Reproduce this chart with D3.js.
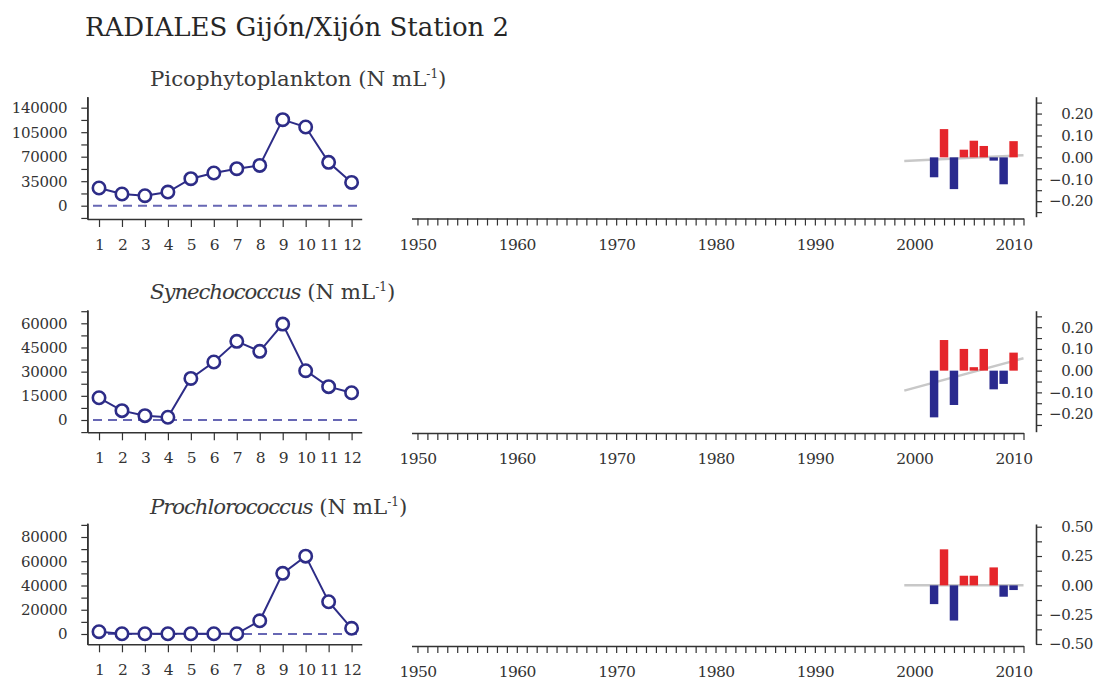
<!DOCTYPE html>
<html><head><meta charset="utf-8">
<script src="https://cdn.jsdelivr.net/npm/d3@7"></script>
<style>
body{margin:0;background:#fff}
svg{display:block;background:#fff}
text{font-family:"DejaVu Serif",serif;fill:#333}
</style>
</head><body>
<svg id="c" width="1111" height="682"></svg>
<script>
// ---------- data ----------
const months = [1,2,3,4,5,6,7,8,9,10,11,12];
const picoMonthly = [25300,16700,14300,19500,38600,46700,52900,57600,122900,112400,61900,33300];
const synMonthly  = [13800,5800,2700,1700,25800,36000,48800,42600,59500,30600,20700,16900];
const proMonthly  = [1900,200,200,200,200,200,200,10900,50000,64200,26600,4700];

const anomalyYears = [2002,2003,2004,2005,2006,2007,2008,2009,2010];
const picoAnomaly = [-0.091,0.129,-0.145,0.035,0.076,0.052,-0.015,-0.123,0.074];
const synAnomaly  = [-0.215,0.141,-0.158,0.100,0.016,0.100,-0.086,-0.061,0.083];
const proAnomaly  = [-0.160,0.307,-0.300,0.082,0.082,0.000,0.153,-0.097,-0.040];

const trendYears = [1999,2011];
const picoTrend = [-0.017,0.010];
const synTrend  = [-0.092,0.057];
const proTrend  = [0.000,0.000];

const picoTicks = [0,35000,70000,105000,140000];
const synTicks  = [0,15000,30000,45000,60000];
const proTicks  = [0,20000,40000,60000,80000];
const picoAnomTicks = [-0.2,-0.1,0,0.1,0.2];
const synAnomTicks  = [-0.2,-0.1,0,0.1,0.2];
const proAnomTicks  = [-0.5,-0.25,0,0.25,0.5];
const yearLabels = [1950,1960,1970,1980,1990,2000,2010];
const yearTickRange = [1950,2011];

const mainTitle = "RADIALES Gijón/Xijón Station 2";
const panelNames = ["Picophytoplankton","Synechococcus","Prochlorococcus"];
const panelItalic = [false,true,true];
const unitText = "(N mL";
const unitSup = "-1";

// ---------- layout ----------
const panels = [
  {name:panelNames[0], italic:panelItalic[0], monthly:picoMonthly, ticks:picoTicks, anom:picoAnomaly, anomTicks:picoAnomTicks, trend:picoTrend,
   top:96.7, bottom:219, yDom:[-19000,155700], minor:17500, rTop:96.7, rBottom:216.7, rDom:[-0.271,0.277], rMinor:0.05, rMinorRange:[-0.25,0.25], yearY:218.5, titleY:86},
  {name:panelNames[1], italic:panelItalic[1], monthly:synMonthly, ticks:synTicks, anom:synAnomaly, anomTicks:synAnomTicks, trend:synTrend,
   top:310, bottom:432.3, yDom:[-7630,68250], minor:7500, rTop:310.7, rBottom:431.7, rDom:[-0.281,0.276], rMinor:0.05, rMinorRange:[-0.25,0.25], yearY:433, titleY:299},
  {name:panelNames[2], italic:panelItalic[2], monthly:proMonthly, ticks:proTicks, anom:proAnomaly, anomTicks:proAnomTicks, trend:proTrend,
   top:523.3, bottom:644.3, yDom:[-8500,91300], minor:10000, rTop:524, rBottom:644, rDom:[-0.5,0.523], rMinor:0.125, rMinorRange:[-0.5,0.5], yearY:646, titleY:514}
];

const svg = d3.select("#c");
const axisColor = "#333";
const lineColor = "#2d2c87";
const dashColor = "#6767b4";
const redColor = "#e5262b";
const blueColor = "#2a2a8e";
const trendColor = "#c8c8c8";

svg.append("text").attr("x",85).attr("y",36).style("font-size","26px").style("fill","#262626").text(mainTitle);

const monthX = d3.scaleLinear().domain([0.49,12.44]).range([87.3,361.7]);
const yearX = d3.scaleLinear().domain([1949.4,2011]).range([411.5,1023.5]);

function styleAxis(g, size, ls){
  g.attr("font-size",null).attr("font-family",null);
  g.selectAll("path.domain").attr("stroke",axisColor).attr("stroke-width",1.6);
  g.selectAll(".tick line").attr("stroke",axisColor).attr("stroke-width",1.2);
  g.selectAll(".tick text")
    .style("fill","#333")
    .style("font-family","'DejaVu Serif', serif")
    .style("font-size",(size||15)+"px")
    .style("letter-spacing",(ls||0)+"px");
}

panels.forEach(p => {
  // panel title
  const t = svg.append("text").attr("x",150).attr("y",p.titleY).style("font-size","21.3px").style("fill","#3a3a3a");
  t.append("tspan").style("font-style",p.italic?"italic":"normal").style("letter-spacing",p.italic?"-1.1px":"0px").text(p.name);
  t.append("tspan").text(" " + unitText);
  t.append("tspan").style("font-size","12px").attr("dy",-8).text(unitSup);
  t.append("tspan").attr("dy",8).text(")");

  // ---- left: monthly climatology ----
  const y = d3.scaleLinear().domain(p.yDom).range([p.bottom,p.top]);
  const minorTicks = d3.range(0, p.yDom[1], p.minor).concat(d3.range(-p.minor, p.yDom[0], -p.minor)).filter(v => !p.ticks.includes(v));
  const gyMinor = svg.append("g").attr("transform",`translate(${monthX.range()[0]},0)`)
    .call(d3.axisLeft(y).tickValues(minorTicks).tickSize(6).tickSizeOuter(0).tickFormat(""));
  styleAxis(gyMinor);
  const gy = svg.append("g").attr("transform",`translate(${monthX.range()[0]},0)`)
    .call(d3.axisLeft(y).tickValues(p.ticks).tickSize(6).tickSizeOuter(0).tickPadding(14).tickFormat(d3.format("d")));
  styleAxis(gy, 15, -0.3);

  const gx = svg.append("g").attr("transform",`translate(0,${p.bottom})`)
    .call(d3.axisBottom(monthX).tickValues(months).tickSize(8).tickSizeOuter(0).tickPadding(12).tickFormat(d3.format("d")));
  styleAxis(gx, 15.5, -0.8);

  svg.append("line").attr("x1",93).attr("x2",363).attr("y1",y(0)).attr("y2",y(0))
    .attr("stroke",dashColor).attr("stroke-width",2).attr("stroke-dasharray","9,6");

  const line = d3.line().x((d,i)=>monthX(months[i])).y(d=>y(d));
  svg.append("path").datum(p.monthly).attr("d",line).attr("fill","none").attr("stroke",lineColor).attr("stroke-width",2);
  svg.append("g").selectAll("circle").data(p.monthly).join("circle")
    .attr("cx",(d,i)=>monthX(months[i])).attr("cy",d=>y(d)).attr("r",6.2)
    .attr("fill","#fff").attr("stroke",lineColor).attr("stroke-width",2.6);

  // ---- right: yearly anomalies ----
  const ry = d3.scaleLinear().domain(p.rDom).range([p.rBottom,p.rTop]);
  const gYear = svg.append("g").attr("transform",`translate(0,${p.yearY})`)
    .call(d3.axisBottom(yearX).tickValues(d3.range(yearTickRange[0],yearTickRange[1]+1)).tickSize(7).tickSizeOuter(0).tickFormat(""));
  styleAxis(gYear);
  const gYearL = svg.append("g").attr("transform",`translate(0,${p.yearY})`)
    .call(d3.axisBottom(yearX).tickValues(yearLabels).tickSize(0).tickSizeOuter(0).tickPadding(20).tickFormat(d3.format("d")));
  gYearL.select("path.domain").remove();
  styleAxis(gYearL, 15.5, -0.6);

  svg.append("line").attr("x1",yearX(trendYears[0])).attr("x2",yearX(trendYears[1]))
    .attr("y1",ry(p.trend[0])).attr("y2",ry(p.trend[1]))
    .attr("stroke",trendColor).attr("stroke-width",2.5);

  const bw = yearX(1950.85)-yearX(1950);
  svg.append("g").selectAll("rect").data(p.anom).join("rect")
    .attr("x",(d,i)=>yearX(anomalyYears[i])-bw/2)
    .attr("width",bw)
    .attr("y",d=>ry(Math.max(d,0)))
    .attr("height",d=>Math.abs(ry(d)-ry(0)))
    .attr("fill",d=>d>=0?redColor:blueColor);

  const rx = 1036;
  const rMinorTicks = d3.range(p.rMinorRange[0], p.rMinorRange[1]+1e-9, p.rMinor).map(v=>+v.toFixed(4));
  const gr = svg.append("g").attr("transform",`translate(${rx},0)`)
    .call(d3.axisRight(ry).tickValues(rMinorTicks).tickSize(6).tickSizeOuter(0).tickFormat(""));
  styleAxis(gr);
  const grL = svg.append("g").attr("transform",`translate(${rx},0)`)
    .call(d3.axisRight(ry).tickValues(p.anomTicks).tickSize(0).tickSizeOuter(0).tickFormat(d3.format(".2f")));
  grL.select("path.domain").remove();
  styleAxis(grL, 15, -0.4);
  grL.selectAll(".tick text").attr("text-anchor","end").attr("x",57);
});
</script>
</body></html>
